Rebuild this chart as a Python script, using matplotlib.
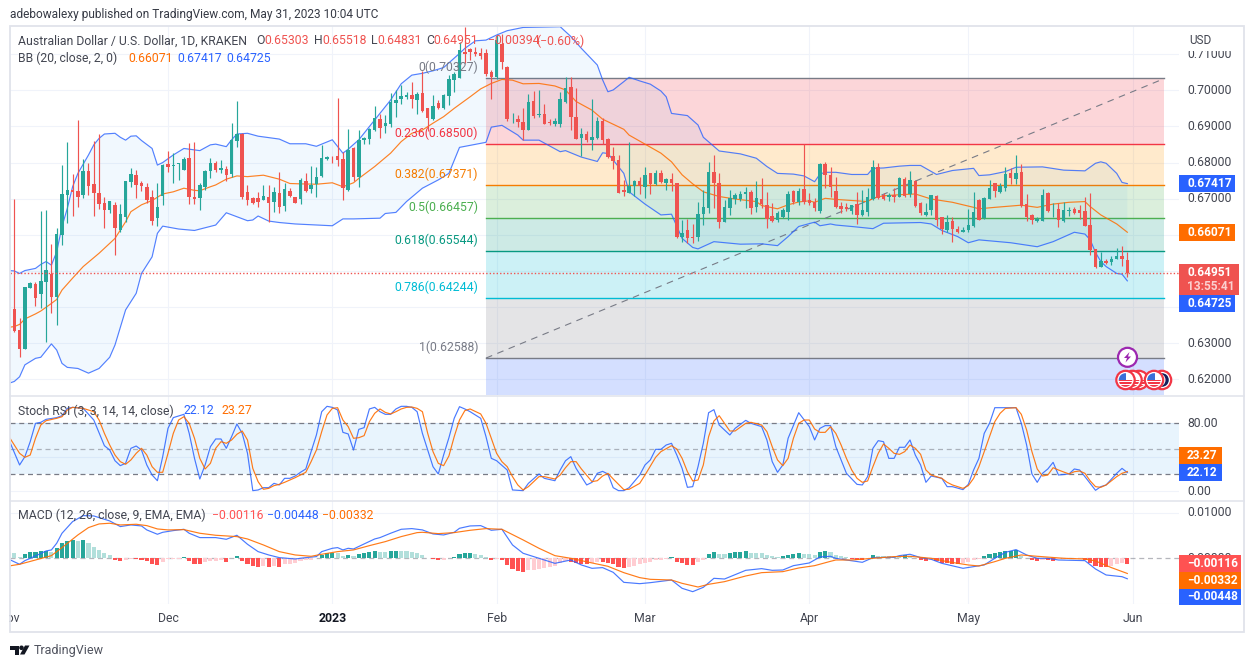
import numpy as np
import matplotlib
matplotlib.use("Agg")
import matplotlib.pyplot as plt
from matplotlib.patches import Circle, Polygon, Rectangle

plt.rcParams['font.family'] = ['Roboto', 'DejaVu Sans']

W, H = 1255, 668
FS = 8.85

# daily candles, 2 Nov 2022 - 31 May 2023, in units of 0.0001
opens = [6394,6336,6285,6453,6464,6436,6470,6492,6429,6600,
         6711,6724,6721,6710,6777,6741,6715,6689,6669,6683,
         6613,6650,6745,6766,6744,6732,6706,6647,6708,6796,
         6791,6795,6779,6813,6706,6703,6731,6777,6800,6779,
         6781,6768,6861,6878,6719,6701,6703,6696,6704,6692,
         6715,6680,6720,6704,6698,6748,6728,6740,6764,6811,
         6816,6818,6809,6724,6839,6759,6862,6865,6890,6920,
         6902,6907,6966,6977,6981,6986,6973,6992,6950,6920,
         6966,6950,6984,7029,7033,7105,7113,7107,7104,7102,
         7051,7036,7128,7064,6922,6921,6911,6890,6970,6932,
         6934,6913,6908,6907,6968,7008,6927,6869,6878,6862,
         6869,6915,6864,6818,6807,6724,6717,6736,6748,6731,
         6770,6741,6770,6744,6755,6743,6595,6612,6595,6593,
         6658,6675,6774,6743,6636,6675,6698,6699,6713,6719,
         6678,6699,6683,6652,6641,6648,6664,6721,6692,6727,
         6696,6692,6666,6796,6766,6721,6680,6676,6667,6684,
         6655,6664,6698,6788,6710,6704,6709,6706,6755,6713,
         6750,6687,6656,6669,6708,6648,6613,6638,6615,6608,
         6612,6623,6696,6646,6700,6743,6719,6730,6770,6755,
         6773,6685,6655,6639,6639,6715,6671,6671,6638,6666,
         6671,6669,6666,6627,6560,6512,6527,6525,6534,6541,6530.3]
highs = [6699,6369,6456,6470,6470,6666,6669,6575,6618,6793,
         6857,6768,6918,6809,6798,6861,6879,6706,6694,6692,
         6685,6749,6784,6779,6750,6743,6724,6743,6796,6833,
         6826,6800,6815,6855,6857,6743,6779,6812,6803,6807,
         6791,6909,6970,6881,6738,6706,6719,6738,6738,6731,
         6773,6743,6729,6706,6756,6772,6791,6789,6849,6819,
         6818,6978,6830,6893,6842,6890,6872,6895,6957,6934,
         6932,6992,7001,7015,6996,7022,6996,7053,6950,6987,
         6973,6990,7042,7052,7135,7176,7116,7121,7116,7113,
         7056,7153,7156,7067,6936,6932,6950,6990,6999,7001,
         6962,6920,6923,6996,7038,7036,7007,6895,6886,6975,
         6925,6922,6867,6844,6821,6752,6856,6752,6759,6787,
         6770,6779,6778,6756,6770,6744,6641,6644,6630,6692,
         6724,6801,6821,6770,6696,6724,6715,6722,6733,6724,
         6749,6756,6718,6687,6667,6673,6721,6724,6729,6851,
         6715,6701,6798,6801,6789,6761,6692,6687,6683,6719,
         6724,6729,6807,6798,6715,6715,6729,6759,6759,6777,
         6752,6692,6687,6710,6710,6650,6655,6650,6625,6621,
         6671,6719,6699,6706,6752,6744,6743,6787,6784,6821,
         6796,6713,6657,6650,6726,6719,6687,6687,6692,6676,
         6678,6683,6704,6715,6560,6553,6534,6541,6564,6569,6551.8]
lows = [6332,6263,6285,6453,6403,6396,6304,6384,6350,6572,
        6632,6653,6678,6703,6710,6653,6671,6620,6661,6544,
        6609,6636,6733,6701,6722,6689,6627,6623,6683,6775,
        6744,6752,6778,6685,6685,6669,6724,6758,6775,6772,
        6750,6761,6844,6698,6683,6684,6678,6696,6636,6664,
        6661,6666,6706,6687,6685,6719,6717,6706,6761,6807,
        6798,6791,6696,6722,6749,6731,6851,6851,6887,6868,
        6881,6898,6927,6962,6975,6950,6934,6941,6886,6918,
        6947,6947,6959,6996,7033,7075,7084,7095,7086,7040,
        6975,7030,7058,6915,6910,6899,6862,6890,6922,6927,
        6906,6904,6901,6898,6966,6890,6865,6818,6858,6835,
        6864,6851,6812,6782,6717,6708,6715,6708,6713,6703,
        6713,6738,6743,6724,6722,6592,6581,6578,6576,6583,
        6627,6661,6675,6620,6635,6655,6685,6694,6675,6658,
        6664,6673,6620,6635,6635,6646,6641,6685,6683,6685,
        6683,6667,6661,6729,6706,6673,6659,6667,6658,6630,
        6653,6653,6696,6699,6695,6694,6692,6706,6706,6706,
        6678,6655,6652,6655,6625,6602,6609,6581,6604,6607,
        6609,6621,6641,6644,6698,6706,6715,6720,6741,6741,
        6676,6639,6630,6636,6637,6664,6650,6621,6635,6653,
        6657,6644,6625,6544,6508,6510,6519,6517,6532,6514,6483.1]
closes = [6334,6283,6455,6466,6426,6472,6503,6429,6602,6713,
          6724,6719,6706,6777,6736,6715,6685,6669,6694,6620,
          6657,6749,6768,6738,6735,6695,6638,6678,6793,6789,
          6794,6800,6810,6706,6699,6738,6777,6798,6778,6784,
          6766,6863,6878,6706,6696,6687,6691,6707,6687,6719,
          6678,6727,6707,6689,6752,6722,6738,6761,6813,6816,
          6815,6807,6729,6835,6761,6862,6869,6893,6923,6897,
          6909,6967,6973,6984,6986,6977,6990,6944,6924,6957,
          6951,6987,7030,7044,7112,7100,7106,7101,7096,7045,
          7036,7139,7077,6920,6924,6913,6890,6967,6929,6934,
          6907,6910,6915,6976,7006,6927,6866,6878,6862,6870,
          6915,6862,6815,6804,6717,6719,6736,6749,6736,6766,
          6741,6770,6745,6755,6743,6595,6604,6590,6592,6657,
          6676,6774,6743,6635,6676,6701,6710,6713,6719,6675,
          6701,6685,6644,6638,6661,6669,6713,6692,6721,6692,
          6689,6675,6796,6766,6733,6678,6672,6671,6682,6655,
          6669,6706,6788,6701,6699,6710,6706,6756,6708,6752,
          6680,6660,6662,6710,6641,6616,6636,6615,6608,6613,
          6626,6663,6641,6702,6730,6722,6736,6768,6758,6770,
          6680,6650,6641,6643,6709,6667,6672,6641,6669,6669,
          6660,6660,6625,6558,6512,6528,6523,6532,6541,6534,6495.1]

# Bollinger bands, read at selected days (days after 2 Nov), units of 0.0001
bb_up_day = [-1,0,1,2,4,5,6,7,8,9,10,11,12,14,15,16,17,19,20,21,22,23,24,26,27,28,30,32,34,35,
             37,38,40,41,42,44,46,50,52,55,57,60,62,63,65,68,71,73,75,77,79,81,84,85,87,89,91,
             93,96,103,105,107,110,111,112,113,115,116,118,120,122,123,124,127,129,130,133,137,
             140,142,144,147,149,151,152,153,155,158,161,162,164,167,169,171,174,177,181,182,184,
             187,189,194,198,202,204,205,206,208,209,210]
bb_up = [6501,6500,6493,6501,6507,6518,6526,6516,6553,6623,6673,6733,6770,6821,6849,6867,6879,6881,
         6870,6862,6873,6874,6861,6839,6793,6800,6821,6839,6835,6833,6849,6851,6844,6863,6879,6881,
         6873,6865,6852,6852,6845,6863,6826,6837,6863,6918,6973,7018,7042,7047,7054,7063,7102,7116,
         7137,7139,7153,7165,7174,7176,7149,7116,7070,7029,6996,7001,7024,7036,7026,7017,6998,6982,
         6936,6930,6904,6870,6832,6824,6812,6789,6770,6768,6763,6747,6768,6773,6773,6767,6767,6784,
         6785,6790,6792,6792,6767,6778,6784,6764,6766,6775,6787,6788,6779,6777,6798,6802,6798,6770,
         6745,6741.7]
bb_mid_day = [-1,0,1,2,4,5,7,8,9,11,13,16,19,21,22,24,26,28,30,32,34,35,37,38,40,42,44,47,50,52,54,
              57,60,62,64,65,68,71,73,75,77,79,81,83,86,88,90,92,94,96,99,102,104,106,109,111,115,
              116,119,122,124,126,128,130,133,136,140,141,144,146,148,150,151,153,155,157,161,162,
              164,167,170,173,177,181,182,185,190,193,196,199,202,203,205,208,210]
bb_mid = [6344,6346,6352,6367,6381,6389,6410,6421,6447,6480,6512,6549,6590,6636,6664,6683,6695,6713,
          6719,6729,6723,6722,6733,6738,6754,6763,6761,6765,6754,6742,6741,6740,6744,6733,6744,6756,
          6789,6826,6858,6881,6890,6909,6927,6950,6982,7004,7019,7030,7028,7018,7019,7012,7001,6969,
          6945,6920,6892,6876,6851,6826,6802,6766,6741,6719,6706,6699,6692,6681,6672,6683,6691,6694,
          6690,6701,6698,6696,6692,6701,6708,6711,6713,6699,6690,6676,6672,6676,6682,6676,6685,6690,
          6692,6678,6655,6630,6607.1]
bb_lo_day = [-1,0,1,2,4,5,7,8,9,10,12,14,16,18,19,21,23,24,26,27,28,31,34,38,40,42,44,45,46,48,50,
             53,60,62,64,69,70,72,74,77,80,82,84,89,90,92,95,96,99,103,104,107,110,111,112,115,116,
             119,122,124,126,128,129,132,137,141,144,146,148,151,152,154,155,158,162,164,171,173,
             175,178,180,182,188,193,196,200,202,203,204,205,206,208,209,210]
bb_lo = [6189,6194,6207,6240,6258,6261,6298,6281,6244,6233,6230,6217,6230,6261,6295,6392,6438,6493,
         6539,6604,6624,6616,6612,6627,6661,6650,6639,6641,6652,6638,6634,6630,6625,6644,6644,6646,
         6659,6662,6692,6729,6752,6770,6842,6856,6898,6903,6876,6862,6862,6830,6833,6815,6803,6827,
         6825,6770,6719,6685,6655,6657,6590,6565,6561,6581,6574,6575,6570,6595,6623,6635,6625,6630,
         6627,6623,6617,6632,6634,6630,6612,6595,6578,6586,6578,6567,6581,6607,6602,6586,6551,6526,
         6512,6493,6491,6472.5]

# Fibonacci retracement, as printed on the levels
fib_ratio = ['0', '0.236', '0.382', '0.5', '0.618', '0.786', '1']
fib_price = [0.70327, 0.68500, 0.67371, 0.66457, 0.65544, 0.64244, 0.62588]
fib_color = ['#787B86', '#F23645', '#F57C00', '#4CAF50', '#089981', '#00BCD4', '#787B86']
fib_fill = ['#F23645', '#FF9800', '#4CAF50', '#089981', '#00BCD4', '#787B86', '#2962FF']
fib_start_day, fib_end_day = 89, 217

# Stoch RSI
stoch_k_day = [-1,1,2,3,4,5,6,8,9,10,11,13,15,17,18,19,20,21,22,23,24,25,26,27,28,29,30,32,33,34,35,
               36,37,38,39,40,41,42,43,44,45,46,47,48,49,50,51,52,53,54,55,56,57,58,59,60,61,62,63,
               64,65,66,67,68,69,70,71,72,73,74,75,76,77,79,80,81,82,83,84,85,86,88,89,90,91,93,94,
               96,97,99,100,102,103,104,105,106,108,109,110,111,112,113,114,115,116,118,119,120,121,
               122,123,124,125,126,127,128,129,130,131,132,133,135,136,138,139,141,142,143,144,145,
               146,148,150,151,152,153,154,155,157,159,160,161,162,163,164,165,166,167,168,169,170,
               171,172,173,175,176,177,179,180,181,182,183,184,185,187,189,190,191,192,193,194,195,
               196,197,199,200,201,202,204,205,206,208,209,210]
stoch_k = [60.4,31,40.8,58.4,80,81.2,84.7,86.7,89,97.6,98.8,97.6,83.9,53.7,48.6,36,30.2,33,50.6,53.3,
           48.6,31,19.2,12.5,40.8,74.1,86.7,90.6,68.2,38.8,14.5,31,52.5,61.6,61.6,50.6,64.3,79.2,68.2,
           44.7,0.8,1.6,4.3,4.3,9.4,7.5,15.3,15.3,18,22.4,26.3,46.7,66.3,93.7,100,98.8,95.7,69.4,67.5,
           48.6,72.9,74.9,96.9,98.8,93.7,90.6,90.6,96.9,100,100,98.8,93.7,68.2,29,20.4,42.7,63,85.9,
           99.6,96.9,93.7,85.9,64.3,38.8,36,25.1,1.6,0.8,9.4,20.4,15.3,12.5,25.1,36,40.8,27,7.5,10.6,
           21.2,23.5,20.4,4.3,0.8,0.8,4.3,19.2,31,36.9,49.4,49.4,54.5,56.5,42.7,27,4.7,5.5,29,56.5,
           92.5,96.1,78,66.3,74.1,83.5,80,76.1,60.4,34.9,22.4,31,62.4,92.5,76.1,60.4,74.1,77.3,77.3,
           52.5,21.2,8.2,7.5,17.3,50.6,59.6,58.4,38.8,38.8,51.8,51.8,60.4,42.7,31,10.6,18,15.3,5.5,
           5.5,2,8.2,25.1,38.8,68.2,80,98.4,98.4,98.4,80,54.5,20.4,10.6,21.2,26.3,34.1,19.2,20.4,
           26.3,25.1,17.3,1.2,5.5,7.5,21.2,27,22.12]
stoch_d_day = [-1,0,1,2,3,4,5,6,8,9,10,11,13,15,16,17,18,19,20,21,22,23,24,25,26,27,28,29,30,31,32,33,
               34,35,36,37,38,39,40,41,42,43,44,45,46,47,48,49,50,51,52,53,54,55,56,57,58,59,60,61,
               62,63,64,65,66,67,68,69,70,71,72,73,74,75,76,77,78,79,80,81,82,83,84,85,86,88,89,90,
               91,92,93,94,95,96,97,99,100,102,103,104,105,106,107,109,110,111,112,113,115,116,118,
               119,121,122,124,125,126,127,128,129,130,131,132,133,134,135,136,138,139,141,142,143,
               144,145,146,147,148,149,150,151,152,153,154,155,156,157,158,159,160,161,162,163,164,
               165,166,167,168,169,170,171,172,173,175,176,177,179,180,181,182,183,184,185,186,187,
               189,190,191,192,193,194,195,196,197,199,200,201,202,203,204,205,206,208,209,210]
stoch_d = [64.3,54.5,44.7,40,42.7,62.4,78,83.1,85.9,87.8,95.7,98.8,97.6,93.7,83.9,68.2,54.5,42.7,34.9,
           31.8,36.9,44.7,50.6,42.7,29,22.4,22.4,44.7,68.2,83.9,87.8,80,62.4,38.8,26.3,32.9,50.6,58.4,
           56.5,60.4,67.1,71,60.4,27,11.4,2.4,3.5,6.7,8.2,10.6,13.3,16.1,19.2,22.4,34.9,48.6,70.2,89.8,
           97.6,98.4,83.9,76.1,62.4,63.1,65.5,82,91.8,96.9,92.9,91,93.7,96.9,98.8,99.2,97.6,93.7,68.2,
           46.7,32.9,30.2,41.6,64.3,83.9,94.9,96.9,91,80,62.4,44.7,34.9,29,17.3,7.5,1.6,5.5,17.3,17.3,
           14.5,19.2,27.8,34.9,34.9,26.3,11.4,12.5,18,21.2,14.5,2,2.4,9.4,19.2,40,46.7,53.7,49.8,38.8,
           23.1,12.2,13.3,31,64.3,82.7,89,80,71,71,80,81.2,78,70.2,52.5,36.9,30.2,38.8,62.4,80,83.9,
           83.9,73.3,69.4,69.4,76.1,68.2,54.5,38.8,25.1,15.3,10.6,12.2,29,44.7,55.7,50.6,44.7,43.5,
           46.7,54.5,50.6,43.5,25.1,19.2,15.3,10.6,7.5,3.5,6.7,15.3,29,46.7,64.3,82,91.8,97.6,98.4,
           90.6,72.2,46.7,26.3,18,19.2,27.8,25.1,20.4,23.1,23.9,21.2,12.2,5.5,4.7,7.5,17.3,21.2,23.27]

# MACD lines, units of 0.00001
macd_day = [-1,1,2,4,6,7,8,9,11,13,15,17,18,20,22,24,25,27,28,30,32,33,35,38,40,42,44,46,48,50,53,55,
            57,58,60,61,62,63,64,66,68,69,71,73,75,77,79,81,83,84,86,88,90,92,94,96,99,102,105,107,
            109,111,113,115,118,120,124,126,128,130,132,134,138,141,143,145,147,150,152,154,155,157,
            160,162,166,167,169,171,173,175,179,183,185,187,189,191,193,195,197,202,204,206,209,210]
macd_line = [-22,-131,-51,51,161,183,329,548,803,934,927,854,818,694,730,708,621,526,569,606,635,548,
             453,453,416,504,307,146,73,15,-15,15,37,146,219,234,183,219,204,314,423,453,548,635,650,
             621,533,511,569,657,708,715,613,635,292,110,0,-110,-37,-146,-219,-204,-307,-526,-555,-533,
             -475,-657,-730,-635,-438,-453,-263,-226,-263,-256,-161,-102,29,44,0,-37,-88,15,22,58,88,15,
             -22,-110,-219,-146,0,131,190,73,0,0,-37,-51,-234,-365,-402,-448]
signal_day = [-1,1,4,7,9,12,14,16,18,20,23,25,27,29,32,35,38,42,44,47,50,53,56,58,61,64,67,70,73,76,
              77,80,83,86,89,92,96,99,102,105,109,112,115,118,120,124,126,129,131,134,138,141,145,148,
              151,154,155,158,162,166,169,173,176,180,182,185,187,190,193,198,202,204,207,210]
signal_line = [-168,-131,-37,58,234,511,672,752,767,730,745,715,642,621,628,548,504,475,423,292,146,73,
               44,88,146,183,277,365,475,562,569,540,562,613,650,635,402,219,58,0,-102,-175,-314,-423,
               -460,-475,-548,-628,-569,-511,-387,-314,-292,-212,-161,-66,-37,-37,0,37,44,0,-73,-146,
               -168,-73,0,73,44,0,-15,-58,-204,-332]
# histogram, one bar per day from 1 Nov, units of 0.00001
macd_hist = [146,110,37,88,131,146,161,168,146,219,329,387,402,387,394,343,256,183,110,73,
             -37,-58,-37,-7,-15,-37,-51,-124,-146,-73,-22,-15,-7,37,-58,-117,-124,-88,-58,-51,
             -44,-73,15,58,-58,-117,-161,-183,-175,-190,-175,-183,-124,-117,-110,-58,-44,-29,15,73,
             110,124,117,51,73,51,95,124,146,161,146,139,161,168,161,153,139,117,73,15,
             -15,-37,-29,7,37,95,117,124,88,73,29,-29,-7,-37,-146,-234,-270,-292,-256,-248,
             -234,-204,-197,-168,-110,-58,-73,-110,-117,-124,-95,-73,-80,-110,-124,-190,-204,-197,-161,-131,
             -102,-73,-44,-37,-15,37,-73,-110,-139,-146,-73,-37,88,139,95,88,117,131,139,153,
             124,117,110,66,44,37,51,73,95,110,102,95,73,146,161,131,73,44,22,-15,
             -37,-44,-22,73,58,51,44,37,29,73,58,15,-29,-51,-44,-51,-102,-110,-117,-124,
             -95,-73,-37,-22,51,88,117,139,153,161,175,58,15,-37,-51,-37,-44,-51,-22,-15,
             -7,-6,-5,-44,-95,-168,-183,-190,-161,-124,-110,-116]

# scale labels and month labels
price_ticks = [0.71, 0.70, 0.69, 0.68, 0.67, 0.66, 0.65, 0.64, 0.63, 0.62]
price_labels = ['0.71000', '0.70000', '0.69000', '0.68000', '0.67000', None, None, None, '0.63000', '0.62000']
month_dates = ['2022-11-01', '2022-12-01', '2023-01-01', '2023-02-01', '2023-03-01', '2023-04-01', '2023-05-01', '2023-06-01']
month_labels = ['Nov', 'Dec', '2023', 'Feb', 'Mar', 'Apr', 'May', 'Jun']

GREEN, RED = '#26A69A', '#EF5350'
BLUE, ORANGE = '#2962FF', '#FF6D00'
GRID = '#F0F3FA'
FRAME = '#E0E3EB'
TXT = '#434651'


def pane(top, bottom):
    ax = fig.add_axes([10/W, 1-bottom/H, (1179-10)/W, (bottom-top)/H])
    ax.set_xlim(-0.81, 219.75)
    ax.axis('off')
    for d in month_days:
        ax.axvline(d, color=GRID, lw=0.8, zorder=0)
    return ax


def tag(y, height, right, text, color):
    ov.add_patch(Rectangle((1179, y-height/2), right-1179, height, color=color, lw=0, zorder=5))
    ov.text(1187, y, text, color='white', fontsize=FS-0.3, fontweight='bold', va='center', ha='left', zorder=6)


def to_y(ax, value):
    # figure pixel row of a value on a pane's axis
    return H - ax.transData.transform((0, value))[1]


def label_run(y, parts):
    for x, s, c in parts:
        ov.text(x, y, s, color=c, fontsize=FS, va='center', ha='left', zorder=4)


def flag(cx, cy, crescent=False):
    ov.add_patch(Circle((cx, cy), 9.2, facecolor='white', edgecolor='#F23645', lw=1.6, zorder=7))
    inner = Circle((cx, cy), 6.8, facecolor='white', lw=0, zorder=7)
    ov.add_patch(inner)
    if crescent:
        ov.add_patch(Circle((cx, cy), 6.8, facecolor='#131F5C', lw=0, zorder=7))
        ov.add_patch(Circle((cx-3, cy), 6.5, facecolor='white', lw=0, zorder=7))
        return
    for k in range(3):
        s = Rectangle((cx-8, cy-0.5+k*2.8), 16, 1.5, color='#F23645', lw=0, zorder=7)
        ov.add_patch(s)
        s.set_clip_path(inner)
    b = Rectangle((cx-8, cy-8), 8.5, 8, color='#3A6FD8', lw=0, zorder=7)
    ov.add_patch(b)
    b.set_clip_path(inner)


fig = plt.figure(figsize=(W/100, H/100), dpi=100, facecolor='white')
start = np.datetime64('2022-11-02')
month_days = [(np.datetime64(d)-start)/np.timedelta64(1, 'D') for d in month_dates]

days = np.arange(len(closes))
o, h, l, c = [np.array(a)/1e4 for a in (opens, highs, lows, closes)]
candle_colors = np.where(c >= o, GREEN, RED)

# ---- price pane
ax = pane(26, 395)
ax.set_ylim(0.70-(395-90.3)/3612.5, 0.70+(90.3-26)/3612.5)
ymin = ax.get_ylim()[0]
for p in price_ticks:
    ax.axhline(p, color=GRID, lw=0.8, zorder=0)
fib_bounds = fib_price + [ymin]
for i in range(len(fib_fill)):
    ax.fill_between([fib_start_day, fib_end_day], fib_bounds[i], fib_bounds[i+1], color=fib_fill[i], alpha=0.2, lw=0, zorder=1)
for p, col in zip(fib_price, fib_color):
    ax.plot([fib_start_day, fib_end_day], [p, p], color=col, lw=1.0, zorder=2)
ax.plot([fib_start_day, fib_end_day], [fib_price[-1], fib_price[0]], color='#787B86', lw=0.8, dashes=(6, 5), zorder=2)

bu_x, bu = np.array(bb_up_day), np.array(bb_up)/1e4
bm_x, bm = np.array(bb_mid_day), np.array(bb_mid)/1e4
bl_x, bl = np.array(bb_lo_day), np.array(bb_lo)/1e4
ax.fill(np.r_[bu_x, bl_x[::-1]], np.r_[bu, bl[::-1]], color='#2196F3', alpha=0.06, lw=0, zorder=2)
ax.plot(bu_x, bu, color=BLUE, lw=0.85, alpha=0.8, zorder=3)
ax.plot(bl_x, bl, color=BLUE, lw=0.85, alpha=0.8, zorder=3)
ax.plot(bm_x, bm, color=ORANGE, lw=0.85, alpha=0.85, zorder=3)

ax.vlines(days, l, h, colors=candle_colors, lw=0.85, zorder=4)
ax.bar(days, np.maximum(np.abs(c-o), 0.00012), bottom=np.minimum(o, c), width=0.66, color=candle_colors, lw=0, zorder=4)
ax.axhline(c[-1], color=RED, lw=1.0, ls=(0, (1, 1.5)), zorder=4)
price_ax = ax

# ---- stoch RSI pane
ax = pane(395.5, 500.3)
ax.set_ylim((491.33-500.3)/0.85, (491.33-395.5)/0.85)
for v in [0, 40, 80]:
    ax.axhline(v, color=GRID, lw=0.8, zorder=0)
ax.axhspan(20, 80, color='#2196F3', alpha=0.1, lw=0, zorder=1)
ax.axhline(80, color='#787B86', lw=0.9, dashes=(4, 3), zorder=2)
ax.axhline(50, color='#787B86', lw=0.9, dashes=(4, 3), alpha=0.55, zorder=2)
ax.axhline(20, color='#787B86', lw=0.9, dashes=(4, 3), zorder=2)
ax.plot(stoch_k_day, stoch_k, color=BLUE, lw=0.85, alpha=0.85, zorder=3)
ax.plot(stoch_d_day, stoch_d, color=ORANGE, lw=0.85, alpha=0.9, zorder=3)
stoch_ax = ax

# ---- MACD pane
ax = pane(500.5, 604)
ax.set_ylim(-(604-558.3)/4570, (558.3-500.5)/4570)
for v in [0.01, -0.01]:
    ax.axhline(v, color=GRID, lw=0.8, zorder=0)
ax.axhline(0, color='#787B86', lw=0.9, dashes=(4, 3), alpha=0.55, zorder=1)
hist = np.array(macd_hist)/1e5
hist_days = np.arange(len(hist))-1
prev = np.r_[hist[0]+1e-4, hist[:-1]]
hist_colors = []
for v, pv in zip(hist, prev):
    if v >= 0:
        hist_colors.append(GREEN if v > pv else '#B2DFDB')
    else:
        hist_colors.append('#FF5252' if v < pv else '#FFCDD2')
ax.bar(hist_days, hist, width=0.78, color=hist_colors, lw=0, zorder=2)
ax.plot(macd_day, np.array(macd_line)/1e5, color=BLUE, lw=0.85, alpha=0.85, zorder=3)
ax.plot(signal_day, np.array(signal_line)/1e5, color=ORANGE, lw=0.85, alpha=0.9, zorder=3)
macd_ax = ax

# ---- overlay in pixel coordinates for frame, labels and tags
ov = fig.add_axes([0, 0, 1, 1], zorder=10)
ov.set_xlim(0, W)
ov.set_ylim(H, 0)
ov.axis('off')
ov.patch.set_alpha(0)
fig.canvas.draw()

# dotted price line carries on across the scale
ov.plot([1179, 1183], [to_y(price_ax, c[-1])]*2, color=RED, lw=1.0, ls=(0, (1, 1.5)), zorder=2)

# frame and pane dividers
ov.add_patch(Rectangle((9.5, 26), 1234.5, 606, fill=False, edgecolor=FRAME, lw=1.3, zorder=3))
ov.plot([10, 1244], [395.5, 395.5], color=FRAME, lw=1.1, zorder=3)
ov.plot([10, 1244], [500.5, 500.5], color=FRAME, lw=1.1, zorder=3)

# price scale
for p, s in zip(price_ticks, price_labels):
    if s:
        ov.text(1187, to_y(price_ax, p), s, color=TXT, fontsize=FS, va='center', ha='left', zorder=2)
ov.add_patch(Rectangle((1180, 27), 62, 24, color='white', lw=0, zorder=3))
ov.text(1189, 41, 'USD', color=TXT, fontsize=FS-0.4, va='center', ha='left', zorder=4)

# time scale
for d, s in zip(month_days, month_labels):
    x = price_ax.transData.transform((d, 0))[0]
    ov.text(x, 618.5, s, color='#131722' if s == '2023' else TXT, fontsize=FS, ha='center', va='center',
            fontweight='bold' if s == '2023' else 'normal', zorder=2)
ov.add_patch(Rectangle((0, 608), 9, 20, color='white', lw=0, zorder=2))

# stoch and MACD scales
ov.text(1187, to_y(stoch_ax, 80), '80.00', color=TXT, fontsize=FS, va='center', zorder=2)
ov.text(1187, to_y(stoch_ax, 0), '0.00', color=TXT, fontsize=FS, va='center', zorder=2)
ov.text(1187, to_y(macd_ax, 0.01), '0.01000', color=TXT, fontsize=FS, va='center', zorder=2)
ov.text(1187, to_y(macd_ax, 0), '0.00000', color=TXT, fontsize=FS, va='center', zorder=2)

# fib level labels sit above their lines
for r, p, col in zip(fib_ratio, fib_price, fib_color):
    ov.text(478, to_y(price_ax, p)-10.7, f'{r}({p:.5f})', color=col, fontsize=FS, ha='right', va='center', zorder=3)

# value tags on the scales
tag(to_y(price_ax, 0.67417), 17, 1235, '0.67417', BLUE)
tag(to_y(price_ax, 0.66071), 17, 1235, '0.66071', ORANGE)
ov.add_patch(Rectangle((1179, 264), 60, 31, color=RED, lw=0, zorder=5))
ov.text(1187, to_y(price_ax, c[-1]), '0.64951', color='white', fontsize=FS-0.3, fontweight='bold', va='center', zorder=6)
ov.text(1187, 286, '13:55:41', color='#FBD0CF', fontsize=FS-0.3, fontweight='bold', va='center', zorder=6)
tag(303.7, 16.5, 1235, '0.64725', BLUE)
tag(455.7, 16.7, 1222, '23.27', ORANGE)
tag(472.8, 16.7, 1222, '22.12', BLUE)
tag(563.3, 16.7, 1241, '\u22120.00116', '#FF5252')
tag(580.3, 16.7, 1241, '\u22120.00332', ORANGE)
tag(597, 16.7, 1241, '\u22120.00448', BLUE)

# indicator legends
label_run(41, [(18, 'Australian Dollar / U.S. Dollar, 1D, KRAKEN', TXT), (256, 'O', TXT), (264, '0.65303', RED),
               (314, 'H', TXT), (322, '0.65518', RED), (371, 'L', TXT), (377, '0.64831', RED), (426.5, 'C', TXT),
               (433, '0.64951', RED), (488, '\u22120.00394', RED), (536, '(\u22120.60%)', RED)])
label_run(58.5, [(18, 'BB (20, close, 2, 0)', TXT), (128, '0.66071', ORANGE), (177, '0.67417', BLUE), (226, '0.64725', BLUE)])
label_run(411, [(18, 'Stoch RSI (3, 3, 14, 14, close)', TXT), (184, '22.12', BLUE), (221, '23.27', ORANGE)])
label_run(515.5, [(18, 'MACD (12, 26, close, 9, EMA, EMA)', TXT), (212, '\u22120.00116', '#FF5252'),
                  (267, '\u22120.00448', BLUE), (322, '\u22120.00332', ORANGE)])

# header and footer
ov.text(10, 14.5, 'adebowalexy published on TradingView.com, May 31, 2023 10:04 UTC', color='#363A45', fontsize=8.6, va='center', ha='left')
ov.add_patch(Polygon([(10, 645.5), (19, 645.5), (19, 654.5), (14.5, 654.5), (14.5, 650), (10, 650)], color='#131722', lw=0))
ov.add_patch(Circle((21.5, 647.8), 2.3, color='#131722', lw=0))
ov.add_patch(Polygon([(25, 645.5), (29.5, 645.5), (24.5, 654.5), (20, 654.5)], color='#131722', lw=0))
ov.text(33.5, 650.5, 'TradingView', color='#50535E', fontsize=9, va='center', ha='left')

# event markers under the last candles
ov.add_patch(Circle((1127.5, 357.3), 9.5, facecolor='white', edgecolor='#9C27B0', lw=1.6, zorder=7))
ov.add_patch(Polygon([(1129.5, 352), (1124, 358), (1127, 358), (1125.5, 362.5), (1131, 356.5), (1128, 356.5)], color='#9C27B0', lw=0, zorder=7))
flag(1139, 380)
flag(1132.5, 380)
flag(1125.5, 380)
flag(1162, 380, crescent=True)
flag(1154, 380)

fig.savefig('out.png', dpi=100)
